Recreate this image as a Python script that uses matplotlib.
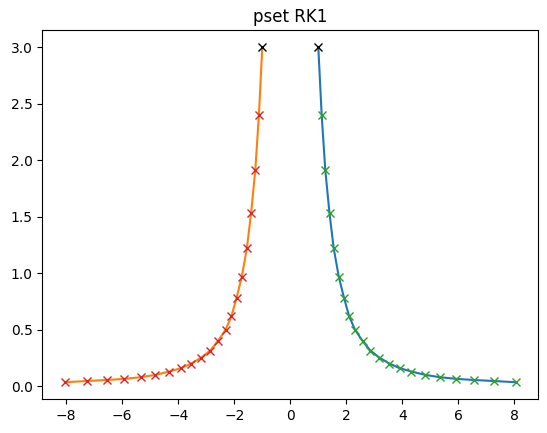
import matplotlib
matplotlib.use("Agg")
import matplotlib.pyplot as plt

# values (right branch, left branch is its mirror)
x_right = [1.0, 1.12, 1.25, 1.40, 1.55, 1.73, 1.92, 2.10, 2.31, 2.58, 2.86,
           3.18, 3.54, 3.90, 4.32, 4.82, 5.33, 5.92, 6.55, 7.27, 8.05]
y_right = [3.0, 2.40, 1.91, 1.53, 1.22, 0.97, 0.78, 0.62, 0.50, 0.40, 0.315,
           0.253, 0.20, 0.16, 0.13, 0.10, 0.08, 0.065, 0.055, 0.046, 0.035]
x_left = [-v for v in x_right]
y_left = list(y_right)

start_x = [1.0, -1.0]
start_y = [3.0, 3.0]

fig = plt.figure(figsize=(5.47, 4.33), dpi=100)
ax = fig.add_axes([0.0773, 0.0785, 0.9068, 0.8515])

ax.plot(x_right, y_right)
ax.plot(x_left, y_left)
ax.plot(x_right[1:], y_right[1:], "x")
ax.plot(x_left[1:], y_left[1:], "x")
ax.plot(start_x, start_y, "kx")

ax.set_title("pset RK1")

fig.savefig("out.png", dpi=100)
